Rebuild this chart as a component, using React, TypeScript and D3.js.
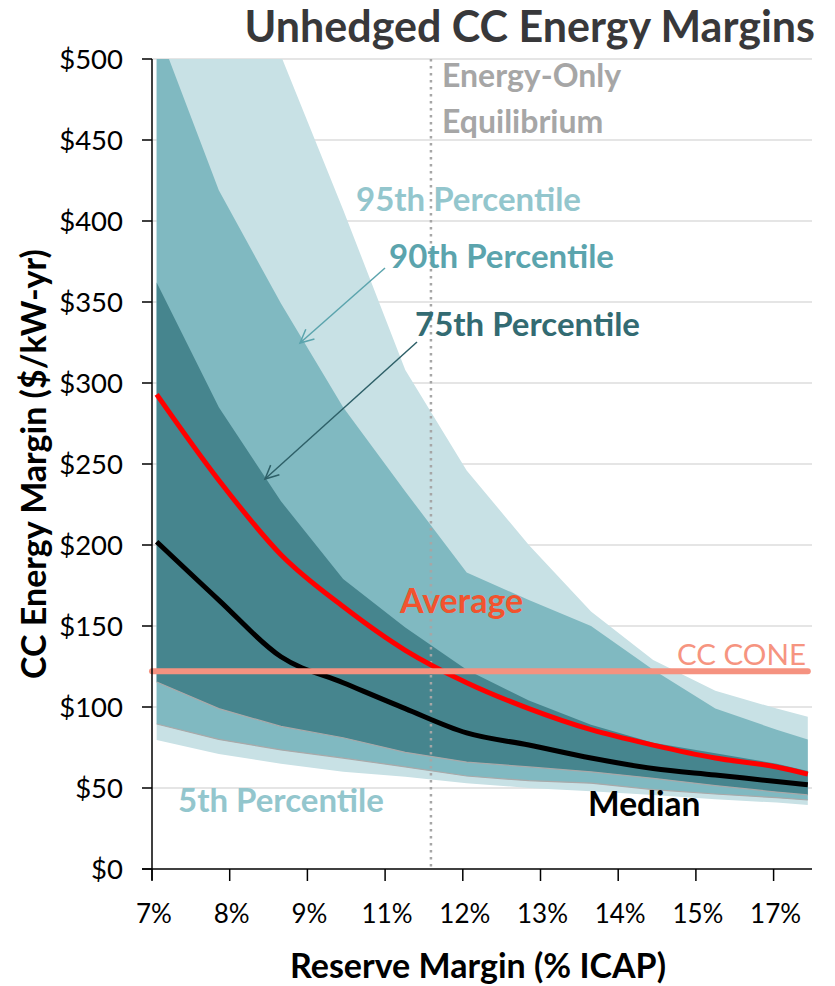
import React from 'react';
import * as d3 from 'd3';

// ---- data ----
const xTickLabels = ['7%', '8%', '9%', '11%', '12%', '13%', '14%', '15%', '17%'];
const yTickValues = [0, 50, 100, 150, 200, 250, 300, 350, 400, 450, 500];
// x positions of the simulated points, in tick-index units
const xPos = [0.06, 0.86, 1.66, 2.46, 3.26, 4.05, 4.85, 5.65, 6.45, 7.25, 8.04, 8.44];
const p95 = [720, 595, 502, 407, 308, 246, 200, 159, 129, 110, 99, 94];
const p90 = [520, 419, 349, 285, 233, 183, 166, 150, 123, 99, 86, 80];
const p75 = [362, 285, 227, 179, 149, 123, 104, 89, 78, 71.5, 65, 60.5];
const average = [293, 240, 194, 162, 135, 115, 99, 86, 76.5, 68.5, 63, 58.6];
const median = [202, 166, 131, 115, 99, 84, 76.5, 68.5, 62, 58, 54, 52];
const p25 = [115.4, 99, 88, 81, 72, 66, 63, 60, 56, 51.5, 47.5, 45.7];
const p10 = [89.5, 80, 73.5, 68.5, 63, 57.4, 54.5, 53, 49, 46.3, 44, 42.6];
const p5 = [79.6, 71, 65, 60, 57, 53, 50, 48, 45.7, 43, 41, 39.5];
const ccCone = 122;
const equilibriumX = 3.59;

const FONT = 'Lato, "Open Sans", sans-serif';

export default function App() {
  const W = 835, H = 986;
  const x = d3.scaleLinear().domain([0, 8]).range([152, 152 + 8 * 77.7]);
  const y = d3.scaleLinear().domain([0, 500]).range([869, 59]);
  const plotRight = 812;

  const idx = xPos.map((_, i) => i);
  const band = (lo: number[], hi: number[]) =>
    d3.area<number>().x(i => x(xPos[i])).y0(i => y(lo[i])).y1(i => y(hi[i]))(idx) || '';
  const line = (vals: number[], curve = d3.curveLinear) =>
    d3.line<number>().x(i => x(xPos[i])).y(i => y(vals[i])).curve(curve)(idx) || '';

  const arrow = (x1: number, y1: number, x2: number, y2: number, color: string) => {
    const ang = Math.atan2(y2 - y1, x2 - x1);
    const L = 15, a = 0.45;
    const h1 = [x2 - L * Math.cos(ang - a), y2 - L * Math.sin(ang - a)];
    const h2 = [x2 - L * Math.cos(ang + a), y2 - L * Math.sin(ang + a)];
    return (
      <g stroke={color} strokeWidth={1.5} fill="none">
        <line x1={x1} y1={y1} x2={x2} y2={y2} />
        <polyline points={`${h1[0]},${h1[1]} ${x2},${y2} ${h2[0]},${h2[1]}`} />
      </g>
    );
  };

  return (
    <svg width={W} height={H} style={{ position: 'absolute', left: 0, top: 0, background: '#fff' }} fontFamily={FONT}>
      <defs>
        <clipPath id="plot">
          <rect x={152} y={y(500)} width={plotRight - 152} height={y(0) - y(500)} />
        </clipPath>
      </defs>
      {/* gridlines */}
      {yTickValues.filter(v => v > 0).map(v => (
        <line key={v} x1={152} x2={plotRight} y1={y(v)} y2={y(v)} stroke="#dcdcdc" strokeWidth={1.5} />
      ))}
      <g clipPath="url(#plot)">
        <path d={band(p5, p95)} fill="#c8e1e5" />
        <path d={band(p10, p90)} fill="#80b9c1" />
        <path d={band(p25, p75)} fill="#46858e" />
        <path d={line(p10)} fill="none" stroke="#a9a9a9" strokeWidth={1.2} />
        <path d={line(p25)} fill="none" stroke="#a9a9a9" strokeWidth={1.2} />
        <line x1={x(equilibriumX)} x2={x(equilibriumX)} y1={y(500)} y2={y(0)} stroke="#a6a6a6" strokeWidth={2.5} strokeDasharray="2.5 4.5" />
        <path d={line(median, d3.curveMonotoneX)} fill="none" stroke="#000" strokeWidth={5} strokeLinejoin="round" />
        <path d={line(average, d3.curveMonotoneX)} fill="none" stroke="#ff0000" strokeWidth={5} strokeLinejoin="round" />
      </g>
      <line x1={152} x2={x(xPos[xPos.length - 1])} y1={y(ccCone)} y2={y(ccCone)} stroke="#f59280" strokeWidth={6} strokeLinecap="round" />

      {/* axes */}
      <line x1={152} x2={152} y1={y(500)} y2={880} stroke="#000" strokeWidth={1.5} />
      <line x1={142} x2={plotRight} y1={y(0)} y2={y(0)} stroke="#000" strokeWidth={1.5} />
      {yTickValues.map(v => (
        <g key={v}>
          <line x1={142} x2={152} y1={y(v)} y2={y(v)} stroke="#000" strokeWidth={1.5} />
          <text x={123} y={y(v)} dy="0.36em" textAnchor="end" fontSize={27.5} fill="#000">{'$' + v}</text>
        </g>
      ))}
      {xTickLabels.map((l, i) => (
        <g key={l}>
          <line x1={x(i)} x2={x(i)} y1={y(0)} y2={881} stroke="#000" strokeWidth={1.5} />
          <text x={x(i) + 2} y={923} textAnchor="middle" fontSize={26} fill="#000">{l}</text>
        </g>
      ))}

      {/* titles */}
      <text x={815} y={42} textAnchor="end" fontSize={43} fontWeight="bold" fill="#38383a">Unhedged CC Energy Margins</text>
      <text x={478} y={978} textAnchor="middle" fontSize={34} fontWeight="bold" fill="#000">Reserve Margin (% ICAP)</text>
      <text transform="translate(46,464) rotate(-90)" textAnchor="middle" fontSize={34} fontWeight="bold" fill="#000">CC Energy Margin ($/kW-yr)</text>

      {/* annotations */}
      <text x={442} y={87} fontSize={32} fontWeight="bold" fill="#a6a6a6">Energy-Only</text>
      <text x={442} y={133} fontSize={32} fontWeight="bold" fill="#a6a6a6">Equilibrium</text>
      <text x={356} y={211} fontSize={33} fontWeight="bold" fill="#93c6cd">95th Percentile</text>
      <text x={389} y={268} fontSize={33} fontWeight="bold" fill="#5ba4ad">90th Percentile</text>
      <text x={415} y={336} fontSize={33} fontWeight="bold" fill="#336b72">75th Percentile</text>
      <text x={400} y={613} fontSize={34} fontWeight="bold" fill="#f2532e">Average</text>
      <text x={677} y={665} fontSize={29.5} fill="#f69480">CC CONE</text>
      <text x={588} y={816} fontSize={33.5} fontWeight="bold" fill="#000">Median</text>
      <text x={178} y={812} fontSize={33} fontWeight="bold" fill="#93c6cd">5th Percentile</text>
      {arrow(385, 268, 300, 343, '#5ba4ad')}
      {arrow(417, 342, 265, 479, '#2e6068')}
    </svg>
  );
}
